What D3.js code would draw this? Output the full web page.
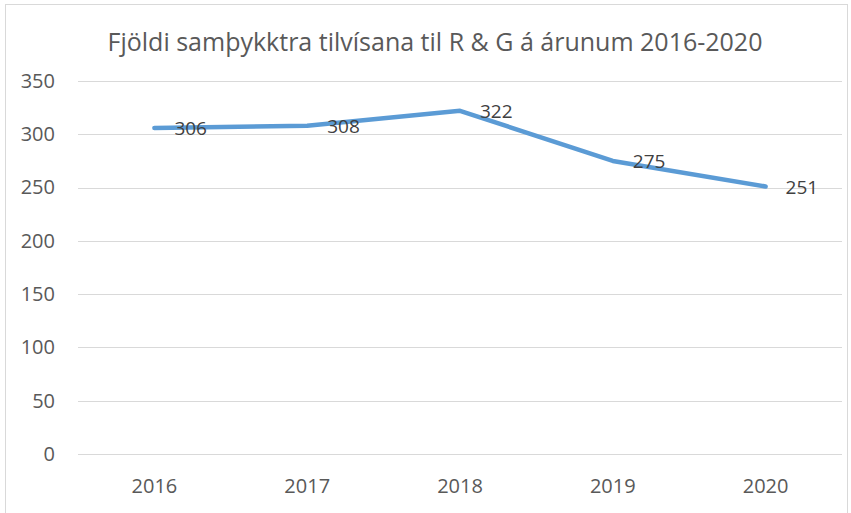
<!DOCTYPE html>
<html>
<head>
<meta charset="utf-8">
<script src="https://cdn.jsdelivr.net/npm/d3@7"></script>
<style>
  body { margin: 0; background: #fff; }
  text { font-family: "Open Sans", "Noto Sans", sans-serif; }
</style>
</head>
<body>
<div id="chart"></div>
<script>
var years = ["2016", "2017", "2018", "2019", "2020"];
var values = [306, 308, 322, 275, 251];
var yTicks = [0, 50, 100, 150, 200, 250, 300, 350];
var title = "Fjöldi samþykktra tilvísana til R & G á árunum 2016-2020";

var width = 851, height = 513;
var margin = { top: 81, right: 9, bottom: 59, left: 78 };
var innerW = width - margin.left - margin.right;
var innerH = height - margin.top - margin.bottom;

var svg = d3.select("#chart").append("svg")
  .attr("width", width)
  .attr("height", height);

// chart frame
svg.append("rect")
  .attr("x", 5.5).attr("y", 4.5)
  .attr("width", 842).attr("height", 510)
  .attr("fill", "#fff")
  .attr("stroke", "#d9d9d9");

svg.append("text")
  .attr("x", 435).attr("y", 51)
  .attr("text-anchor", "middle")
  .attr("fill", "#595959")
  .style("font-size", "25px")
  .text(title);

var g = svg.append("g")
  .attr("transform", "translate(" + margin.left + "," + margin.top + ")");

var x = d3.scaleBand().domain(years).range([0, innerW]);
var y = d3.scaleLinear().domain([0, 350]).range([innerH, 0]);

// gridlines
g.append("g").selectAll("line")
  .data(yTicks)
  .join("line")
  .attr("x1", 0).attr("x2", innerW)
  .attr("y1", function (d) { return Math.round(y(d)) + 0.5; })
  .attr("y2", function (d) { return Math.round(y(d)) + 0.5; })
  .attr("stroke", "#d9d9d9")
  .attr("stroke-width", 1);

// y axis labels
var yAxis = g.append("g")
  .call(d3.axisLeft(y).tickValues(yTicks).tickSize(0).tickPadding(23));
yAxis.select(".domain").remove();
yAxis.selectAll("text")
  .attr("fill", "#595959")
  .style("font-size", "20px");

// x axis labels
var xAxis = g.append("g")
  .attr("transform", "translate(0," + innerH + ")")
  .call(d3.axisBottom(x).tickSize(0).tickPadding(0));
xAxis.select(".domain").remove();
xAxis.selectAll("text")
  .attr("fill", "#595959")
  .attr("y", 39)
  .attr("dy", null)
  .style("font-size", "20px");

var line = d3.line()
  .x(function (d, i) { return x(years[i]) + x.bandwidth() / 2; })
  .y(function (d) { return y(d); });

g.append("path")
  .datum(values)
  .attr("d", line)
  .attr("fill", "none")
  .attr("stroke", "#5b9bd5")
  .attr("stroke-width", 4.5)
  .attr("stroke-linecap", "round")
  .attr("stroke-linejoin", "round");

g.append("g").selectAll("text")
  .data(values)
  .join("text")
  .attr("x", function (d, i) { return x(years[i]) + x.bandwidth() / 2 + 20; })
  .attr("y", function (d) { return y(d) + 7; })
  .attr("fill", "#404040")
  .style("font-size", "19px")
  .text(function (d) { return d; });
</script>
</body>
</html>
